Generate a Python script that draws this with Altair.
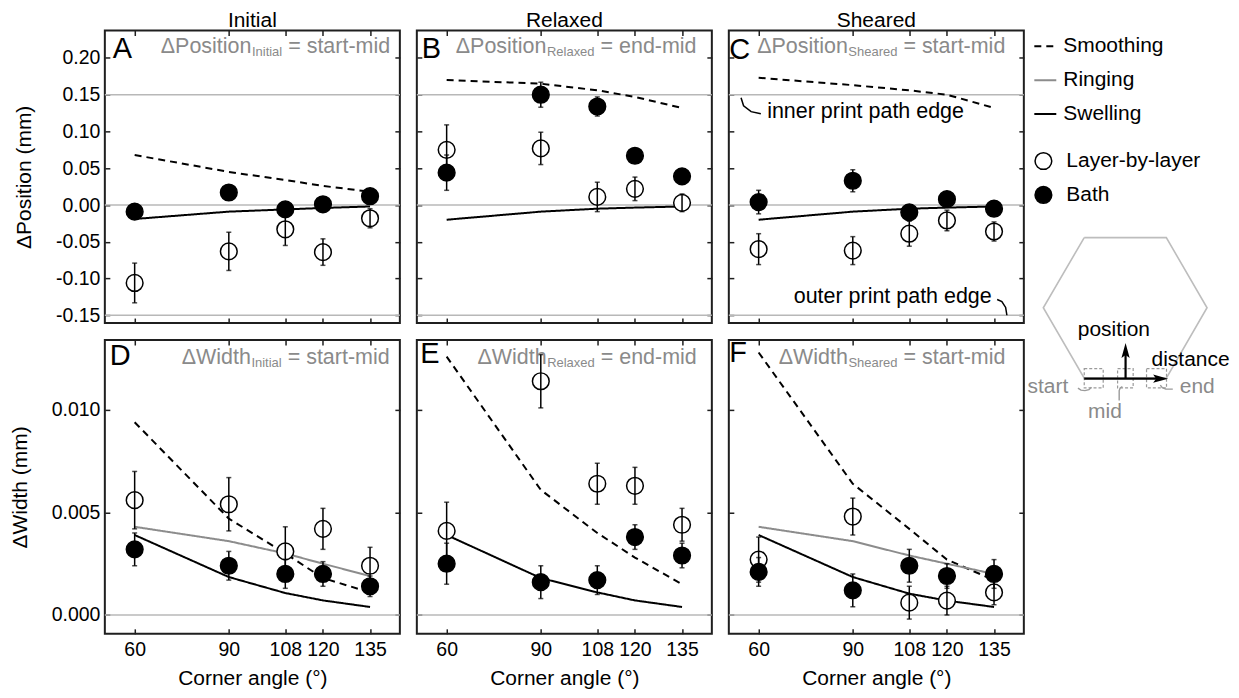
import altair as alt
import pandas as pd

FONT = "Liberation Sans"
FRAME = "#1f1f1f"
REF_GREY = "#b8b8b8"
TXT_GREY = "#8a8a8a"
RING_GREY = "#8c8c8c"
HEX_GREY = "#bdbdbd"

# ---------------- data ----------------
ANGLES = [60, 90, 108, 120, 135]
X_TICKS = [60, 90, 108, 120, 135]
MODELS = ["Smoothing", "Ringing", "Swelling"]
METHODS = ["Layer-by-layer", "Bath"]
COLUMN_TITLES = ["Initial", "Relaxed", "Sheared"]

POS_TICKS = [-0.15, -0.10, -0.05, 0.0, 0.05, 0.10, 0.15, 0.20]
WID_TICKS = [0.0, 0.005, 0.010]
POS_REFS = [0.15, 0.0, -0.15]
WID_REFS = [0.0]

# Panel A (Initial, position)
A_SMOOTHING = [0.068, 0.045, 0.034, 0.026, 0.018]
A_SWELLING = [-0.019, -0.009, -0.006, -0.004, -0.002]
A_LBL = [-0.106, -0.063, -0.033, -0.064, -0.018]
A_LBL_ERR = [0.027, 0.026, 0.022, 0.018, 0.013]
A_BATH = [-0.009, 0.017, -0.006, 0.001, 0.012]
A_BATH_ERR = [0.005, 0.005, 0.005, 0.004, 0.005]

# Panel B (Relaxed, position)
B_SMOOTHING = [0.170, 0.165, 0.156, 0.147, 0.132]
B_SWELLING = [-0.020, -0.009, -0.005, -0.0035, -0.002]
B_LBL = [0.075, 0.077, 0.011, 0.022, 0.003]
B_LBL_ERR = [0.034, 0.022, 0.020, 0.016, 0.012]
B_BATH = [0.044, 0.150, 0.134, 0.067, 0.039]
B_BATH_ERR = [0.024, 0.017, 0.013, 0.010, 0.006]

# Panel C (Sheared, position)
C_SMOOTHING = [0.173, 0.163, 0.156, 0.150, 0.132]
C_SWELLING = [-0.020, -0.009, -0.005, -0.0035, -0.002]
C_LBL = [-0.060, -0.062, -0.039, -0.021, -0.036]
C_LBL_ERR = [0.021, 0.019, 0.017, 0.014, 0.013]
C_BATH = [0.004, 0.033, -0.010, 0.008, -0.005]
C_BATH_ERR = [0.016, 0.015, 0.008, 0.008, 0.005]

# Panel D (Initial, width)
D_SMOOTHING = [0.0094, 0.0047, 0.0030, 0.0018, 0.0011]
D_RINGING = [0.0043, 0.0036, 0.0030, 0.0025, 0.0019]
D_SWELLING = [0.0039, 0.00185, 0.00107, 0.00071, 0.00039]
D_LBL = [0.0056, 0.0054, 0.0031, 0.0042, 0.0024]
D_LBL_ERR = [0.0014, 0.0013, 0.0012, 0.0010, 0.0009]
D_BATH = [0.0032, 0.0024, 0.0020, 0.0020, 0.0014]
D_BATH_ERR = [0.0008, 0.0007, 0.0007, 0.0006, 0.0005]

# Panel E (Relaxed, width)
E_SMOOTHING = [0.0126, 0.0061, 0.0040, 0.0028, 0.0015]
E_SWELLING = [0.0039, 0.00180, 0.00110, 0.00071, 0.00039]
E_LBL = [0.0041, 0.0114, 0.0064, 0.0063, 0.0044]
E_LBL_ERR = [0.0014, 0.0013, 0.0010, 0.0009, 0.0008]
E_BATH = [0.0025, 0.0016, 0.0017, 0.0038, 0.0029]
E_BATH_ERR = [0.0010, 0.0008, 0.0007, 0.0006, 0.0006]

# Panel F (Sheared, width)
F_SMOOTHING = [0.0128, 0.0064, 0.0042, 0.0027, 0.0017]
F_RINGING = [0.0043, 0.0036, 0.0029, 0.0025, 0.0020]
F_SWELLING = [0.0039, 0.00185, 0.00104, 0.00070, 0.00039]
F_LBL = [0.0027, 0.0048, 0.0006, 0.0007, 0.0011]
F_LBL_ERR = [0.0011, 0.0009, 0.0008, 0.0007, 0.0006]
F_BATH = [0.0021, 0.0012, 0.0024, 0.0019, 0.0020]
F_BATH_ERR = [0.0007, 0.0008, 0.0008, 0.0006, 0.0007]

# annotation hooks in panel C (data coordinates)
INNER_HOOK_X = [54.4, 55.2, 57.6, 60.7]
INNER_HOOK_Y = [0.146, 0.135, 0.127, 0.124]
OUTER_HOOK_X = [136.0, 137.5, 138.7, 139.1]
OUTER_HOOK_Y = [-0.1285, -0.1314, -0.1393, -0.1499]

# schematic beside panel C, read in reference page pixels
HEX_X = [1084.3, 1166.5, 1207.3, 1166.5, 1084.3, 1043.3, 1084.3]
HEX_Y = [237.7, 237.7, 308.0, 378.5, 378.5, 308.0, 237.7]
BOX_X1 = [1084.3, 1117.7, 1146.7]
BOX_X2 = [1103.3, 1133.3, 1166.7]
BOX_Y1 = [369.0, 369.0, 369.0]
BOX_Y2 = [388.3, 388.3, 388.3]
START_HOOK_X = [1078.0, 1081.0, 1085.0, 1089.0, 1091.5]
START_HOOK_Y = [388.5, 390.5, 391.0, 390.0, 387.5]
MID_HOOK_X = [1119.3, 1119.3, 1120.3, 1122.5]
MID_HOOK_Y = [401.0, 391.0, 388.3, 387.0]
END_HOOK_X = [1160.5, 1162.5, 1166.0, 1173.0]
END_HOOK_Y = [385.5, 388.0, 389.5, 389.5]
ARROW_H = [1084.3, 1161.0, 379.0]      # x1, x2, y
ARROW_V = [1125.7, 379.0, 351.0]       # x, y1, y2
HEAD_RIGHT = [1160.8, 379.0]
HEAD_UP = [1125.7, 350.8]
SB_TEXT = ["position", "distance", "start", "end", "mid"]
SB_TEXT_X = [1114.0, 1151.7, 1068.3, 1180.0, 1105.0]
SB_TEXT_Y = [336.7, 366.7, 393.3, 393.3, 418.3]
SB_TEXT_ALIGN = ["center", "left", "right", "left", "center"]
SB_TEXT_COLOR = ["black", "black", TXT_GREY, TXT_GREY, TXT_GREY]
REF_C_LEFT = 728.3     # reference page x of panel C's plot origin
REF_A_LEFT = 104.0
TOP_PAGE = 30.3        # page y of the top row's plot origin in this layout

# ---------------- layout ----------------
PW = 295.5
PH_TOP, PH_BOT = 293, 294.3
COL_SP, ROW_SP = 16.5, 17
X_DOMAIN = [50.5, 144.5]
POS_DOMAIN = [-0.1605, 0.2373]
WID_DOMAIN = [-0.00092, 0.01341]
F_SIZE = 21.5
SUB_SIZE = 13
DY = TOP_PAGE - 28.0   # shift of top-row plot origin vs reference

ARIAL = {' ': 278, '-': 333, '=': 584, 'Δ': 668, 'P': 667, 'W': 944, 'I': 278,
         'R': 722, 'S': 667, 'a': 556, 'd': 556, 'e': 556, 'h': 556, 'i': 222,
         'l': 222, 'm': 833, 'n': 556, 'o': 556, 'r': 333, 's': 500, 't': 278,
         'x': 500}


def tw(s, size):
    return sum(ARIAL.get(c, 556) for c in s) * size / 1000.0


# legends: positions relative to the first panel's plot origin
LINE_LEGEND = alt.Legend(title=None, orient="none", legendX=1034 - REF_A_LEFT, legendY=34 - TOP_PAGE,
                         symbolType="stroke", symbolSize=484, symbolStrokeWidth=2,
                         labelFont=FONT, labelFontSize=21, labelColor="black",
                         labelOffset=6, rowPadding=12, padding=0)
PT_LEGEND = alt.Legend(title=None, orient="none", legendX=1033.6 - REF_A_LEFT, legendY=150.5 - TOP_PAGE,
                       symbolType="circle", symbolSize=280, symbolStrokeColor="black",
                       symbolStrokeWidth=1.5, labelFont=FONT, labelFontSize=21,
                       labelColor="black", labelOffset=12.5, rowPadding=11, padding=0)


def lines_df(series):
    rows = []
    for name, vals in series:
        for a, v in zip(ANGLES, vals):
            rows.append({"model": name, "angle": a, "value": v})
    return pd.DataFrame(rows)


def pts_df(lbl, lbl_err, bath, bath_err):
    rows = []
    for method, vals, errs in [("Layer-by-layer", lbl, lbl_err), ("Bath", bath, bath_err)]:
        for a, v, e in zip(ANGLES, vals, errs):
            rows.append({"method": method, "angle": a, "value": v, "lo": v - e, "hi": v + e})
    return pd.DataFrame(rows)


def text_layer(text, x, y, size, color, align="left"):
    return alt.Chart(pd.DataFrame({"t": [text]})).mark_text(
        align=align, baseline="alphabetic", font=FONT, fontSize=size, color=color
    ).encode(text="t:N", x=alt.value(x), y=alt.value(y))


def panel(series, pts, kind, first_col, bottom_row, letter, letter_xy,
          main, sub, rest, f_xy, title=None, extras=None):
    xs = alt.Scale(domain=X_DOMAIN, nice=False, zero=False)
    if kind == "pos":
        ydom, ph = POS_DOMAIN, PH_TOP
        yticks, fmt, ytitle, refs = POS_TICKS, ".2f", "ΔPosition (mm)", POS_REFS
        shift = DY
    else:
        ydom, ph = WID_DOMAIN, PH_BOT
        yticks, fmt, ytitle, refs = WID_TICKS, ".3f", "ΔWidth (mm)", WID_REFS
        shift = 0
    ys = alt.Scale(domain=ydom, nice=False, zero=False)
    base_ax = dict(domain=False, grid=False, tickSize=5, offset=-5, tickColor=FRAME,
                   tickWidth=1.5, labelFont=FONT, labelFontSize=19.5, labelColor="black",
                   titleFont=FONT, titleFontSize=21, titleFontWeight="normal",
                   titleColor="black", labelFlush=False, labelOverlap=False)
    lab_expr = "(datum.value < 0 ? '-' : '') + format(abs(datum.value), '%s')" % fmt
    ax_left = alt.Axis(orient="left", values=yticks, labels=first_col, labelExpr=lab_expr,
                       labelPadding=5, title=ytitle if first_col else None,
                       titlePadding=21, **base_ax)
    ax_right = alt.Axis(orient="right", values=yticks, labels=False, title=None, **base_ax)
    ax_bottom = alt.Axis(orient="bottom", values=X_TICKS, labels=bottom_row, labelPadding=7,
                         title="Corner angle (°)" if bottom_row else None,
                         titlePadding=8, **base_ax)
    ax_top = alt.Axis(orient="top", values=X_TICKS, labels=False, title=None, **base_ax)

    ref = alt.Chart(pd.DataFrame({"ref": refs})).mark_rule(
        color=REF_GREY, strokeWidth=1.5
    ).encode(y=alt.Y("ref:Q", scale=ys, axis=None))

    ln = alt.Chart(lines_df(series)).mark_line(strokeWidth=2).encode(
        x=alt.X("angle:Q", scale=xs, axis=ax_bottom),
        y=alt.Y("value:Q", scale=ys, axis=ax_left),
        stroke=alt.Stroke("model:N", scale=alt.Scale(domain=MODELS, range=["black", RING_GREY, "black"]),
                          legend=LINE_LEGEND),
        strokeDash=alt.StrokeDash("model:N", scale=alt.Scale(domain=MODELS, range=[[7, 5], [1, 0], [1, 0]]),
                                  legend=LINE_LEGEND),
    )

    pt = alt.Chart(pts).mark_point(shape="circle", size=280, stroke="black", strokeWidth=1.5,
                                   opacity=1, fillOpacity=1).encode(
        x=alt.X("angle:Q", scale=xs, axis=ax_top),
        y=alt.Y("value:Q", scale=ys, axis=ax_right),
        fill=alt.Fill("method:N", scale=alt.Scale(domain=METHODS, range=["white", "black"]),
                      legend=PT_LEGEND),
    )

    err = alt.Chart(pts).mark_rule(color="black", strokeWidth=1.5).encode(
        x=alt.X("angle:Q", scale=xs, axis=None),
        y=alt.Y("lo:Q", scale=ys, axis=None),
        y2="hi:Q",
    )
    caps_df = pd.concat([
        pts[["angle"]].assign(cap=pts["lo"]),
        pts[["angle"]].assign(cap=pts["hi"]),
    ])
    caps = alt.Chart(caps_df).mark_tick(orient="horizontal", size=5, thickness=1.5,
                                        color="black").encode(
        x=alt.X("angle:Q", scale=xs, axis=None),
        y=alt.Y("cap:Q", scale=ys, axis=None),
    )

    fx, fy = f_xy
    w_main = tw(main, F_SIZE)
    w_sub = tw(sub, SUB_SIZE)
    texts = [
        text_layer(letter, letter_xy[0], letter_xy[1] - shift, 29, "black"),
        text_layer(main, fx, fy - shift, F_SIZE, TXT_GREY),
        text_layer(sub, fx + w_main + 0.5, fy + 3.5 - shift, SUB_SIZE, TXT_GREY),
        text_layer(rest, fx + w_main + w_sub + tw(" ", F_SIZE) + 0.5, fy - shift, F_SIZE, TXT_GREY),
    ]
    if title:
        texts.append(text_layer(title, PW / 2, -4, 21, "black", align="center"))
    layers = [ref, ln, pt, err, caps] + texts
    if extras:
        layers += extras(xs, ys, ydom, ph, shift)
    return alt.layer(*layers).properties(width=PW, height=ph)


def c_extras(xs, ys, ydom, ph, shift):
    def to_x(px):
        return [X_DOMAIN[0] + (p - REF_C_LEFT) * (X_DOMAIN[1] - X_DOMAIN[0]) / PW for p in px]

    def to_y(py):
        return [ydom[1] - (p - TOP_PAGE) * (ydom[1] - ydom[0]) / ph for p in py]

    def path(xv, yv, color, width):
        return alt.Chart(pd.DataFrame({"x": xv, "y": yv, "i": range(len(xv))})).mark_line(
            color=color, strokeWidth=width).encode(
            x=alt.X("x:Q", scale=xs, axis=None), y=alt.Y("y:Q", scale=ys, axis=None), order="i:Q")

    out = [
        path(INNER_HOOK_X, INNER_HOOK_Y, "black", 1.5),
        path(OUTER_HOOK_X, OUTER_HOOK_Y, "black", 1.5),
        text_layer("inner print path edge", 38.4, 90.3 - shift, 21.5, "black"),
        text_layer("outer print path edge", 65, 275.3 - shift, 21.5, "black"),
        # schematic
        path(to_x(HEX_X), to_y(HEX_Y), HEX_GREY, 1.6),
        alt.Chart(pd.DataFrame({"x1": to_x(BOX_X1), "x2": to_x(BOX_X2),
                                "y1": to_y(BOX_Y1), "y2": to_y(BOX_Y2)})).mark_rect(
            fill="transparent", stroke="#9a9a9a", strokeWidth=1.2, strokeDash=[3, 2]).encode(
            x=alt.X("x1:Q", scale=xs, axis=None), x2="x2:Q",
            y=alt.Y("y1:Q", scale=ys, axis=None), y2="y2:Q"),
        path(to_x(START_HOOK_X), to_y(START_HOOK_Y), "#9a9a9a", 1.4),
        path(to_x(MID_HOOK_X), to_y(MID_HOOK_Y), "#9a9a9a", 1.4),
        path(to_x(END_HOOK_X), to_y(END_HOOK_Y), "#9a9a9a", 1.4),
        alt.Chart(pd.DataFrame({"x1": to_x([ARROW_H[0]]), "x2": to_x([ARROW_H[1]]),
                                "y": to_y([ARROW_H[2]])})).mark_rule(
            color="black", strokeWidth=2.2).encode(
            x=alt.X("x1:Q", scale=xs, axis=None), x2="x2:Q", y=alt.Y("y:Q", scale=ys, axis=None)),
        alt.Chart(pd.DataFrame({"x": to_x([ARROW_V[0]]), "y1": to_y([ARROW_V[1]]),
                                "y2": to_y([ARROW_V[2]])})).mark_rule(
            color="black", strokeWidth=2.2).encode(
            x=alt.X("x:Q", scale=xs, axis=None), y=alt.Y("y1:Q", scale=ys, axis=None), y2="y2:Q"),
        alt.Chart(pd.DataFrame({"x": to_x([HEAD_RIGHT[0]]), "y": to_y([HEAD_RIGHT[1]])})).mark_point(
            shape="M-1,-0.55L1,0L-1,0.55L-0.6,0Z", size=225, filled=True, color="black",
            opacity=1).encode(
            x=alt.X("x:Q", scale=xs, axis=None), y=alt.Y("y:Q", scale=ys, axis=None)),
        alt.Chart(pd.DataFrame({"x": to_x([HEAD_UP[0]]), "y": to_y([HEAD_UP[1]])})).mark_point(
            shape="M-0.55,1L0,-1L0.55,1L0,0.6Z", size=225, filled=True, color="black",
            opacity=1).encode(
            x=alt.X("x:Q", scale=xs, axis=None), y=alt.Y("y:Q", scale=ys, axis=None)),
    ]
    for t, x, y, al, col in zip(SB_TEXT, SB_TEXT_X, SB_TEXT_Y, SB_TEXT_ALIGN, SB_TEXT_COLOR):
        out.append(
            alt.Chart(pd.DataFrame({"t": [t], "x": to_x([x]), "y": to_y([y])})).mark_text(
                align=al, baseline="alphabetic", font=FONT, fontSize=21, color=col).encode(
                text="t:N", x=alt.X("x:Q", scale=xs, axis=None), y=alt.Y("y:Q", scale=ys, axis=None)))
    return out


pA = panel([("Smoothing", A_SMOOTHING), ("Swelling", A_SWELLING)],
           pts_df(A_LBL, A_LBL_ERR, A_BATH, A_BATH_ERR), "pos", True, False,
           "A", (8, 30), "ΔPosition", "Initial", "= start-mid", (56, 24.5), title=COLUMN_TITLES[0])
pB = panel([("Smoothing", B_SMOOTHING), ("Swelling", B_SWELLING)],
           pts_df(B_LBL, B_LBL_ERR, B_BATH, B_BATH_ERR), "pos", False, False,
           "B", (5, 30), "ΔPosition", "Relaxed", "= end-mid", (39, 24.5), title=COLUMN_TITLES[1])
pC = panel([("Smoothing", C_SMOOTHING), ("Swelling", C_SWELLING)],
           pts_df(C_LBL, C_LBL_ERR, C_BATH, C_BATH_ERR), "pos", False, False,
           "C", (0.5, 31), "ΔPosition", "Sheared", "= start-mid", (28.4, 24.5),
           title=COLUMN_TITLES[2], extras=c_extras)
pD = panel([("Smoothing", D_SMOOTHING), ("Ringing", D_RINGING), ("Swelling", D_SWELLING)],
           pts_df(D_LBL, D_LBL_ERR, D_BATH, D_BATH_ERR), "wid", True, True,
           "D", (5, 25), "ΔWidth", "Initial", "= start-mid", (77, 24))
pE = panel([("Smoothing", E_SMOOTHING), ("Swelling", E_SWELLING)],
           pts_df(E_LBL, E_LBL_ERR, E_BATH, E_BATH_ERR), "wid", False, True,
           "E", (3.5, 23.5), "ΔWidth", "Relaxed", "= end-mid", (60.7, 24))
pF = panel([("Smoothing", F_SMOOTHING), ("Ringing", F_RINGING), ("Swelling", F_SWELLING)],
           pts_df(F_LBL, F_LBL_ERR, F_BATH, F_BATH_ERR), "wid", False, True,
           "F", (0.5, 22), "ΔWidth", "Sheared", "= start-mid", (50, 24))

chart = alt.concat(pA, pB, pC, pD, pE, pF, columns=3,
                   spacing=alt.RowColnumber(row=ROW_SP, column=COL_SP), bounds="flush").properties(
    padding={"left": 0, "top": 0, "right": 0, "bottom": 0}
).configure(font=FONT).configure_view(stroke=FRAME, strokeWidth=2)

chart.save("out.html", embed_options={"renderer": "svg", "actions": False})
